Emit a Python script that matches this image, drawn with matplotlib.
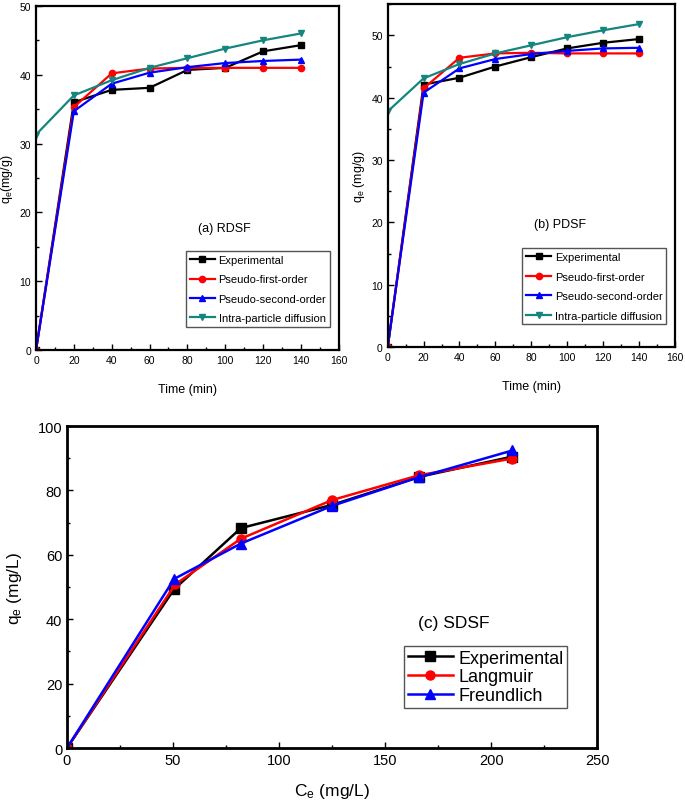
import numpy as np
import matplotlib
matplotlib.use("Agg")
import matplotlib.pyplot as plt
from matplotlib.ticker import MultipleLocator

# (a) RDSF kinetics
time_a = [0, 20, 40, 60, 80, 100, 120, 140]
exp_a = [0, 36.0, 37.8, 38.1, 40.7, 41.0, 43.4, 44.3]
pfo_a = [0, 35.3, 40.2, 40.9, 41.0, 41.0, 41.0, 41.0]
pso_a = [0, 34.7, 38.7, 40.3, 41.1, 41.7, 42.0, 42.2]
ipd_a = [31.3, 37.0, 39.2, 41.0, 42.4, 43.8, 45.0, 46.0]

# (b) PDSF kinetics
time_b = [0, 20, 40, 60, 80, 100, 120, 140]
exp_b = [0, 42.1, 43.2, 45.0, 46.5, 47.9, 48.8, 49.4]
pfo_b = [0, 41.5, 46.4, 47.1, 47.2, 47.1, 47.1, 47.1]
pso_b = [0, 40.8, 44.7, 46.2, 47.0, 47.5, 47.9, 48.0]
ipd_b = [37.8, 43.1, 45.4, 47.1, 48.4, 49.7, 50.8, 51.8]

# (c) SDSF isotherms
ce_exp = [0, 50.5, 82, 125, 166, 210]
qe_exp = [0, 49.3, 68.3, 75.5, 84.2, 90.5]
ce_lang = [0, 51, 82, 125, 166, 210]
qe_lang = [0, 50.8, 65.0, 77.0, 84.7, 89.9]
ce_freu = [0, 50.5, 82, 125, 166, 210]
qe_freu = [0, 52.5, 63.5, 75.2, 84.1, 92.4]

kin_labels = ["Experimental", "Pseudo-first-order", "Pseudo-second-order", "Intra-particle diffusion"]
iso_labels = ["Experimental", "Langmuir", "Freundlich"]
teal = "#14867f"

plt.rcParams["font.family"] = ["Liberation Sans", "DejaVu Sans"]
plt.rcParams["mathtext.fontset"] = "custom"
plt.rcParams["mathtext.rm"] = "Liberation Sans"
plt.rcParams["mathtext.it"] = "Liberation Sans"

fig = plt.figure(figsize=(6.85, 8.04), dpi=100)


def style_axes(ax, fsize):
    ax.tick_params(which="both", direction="in", top=False, right=False)
    ax.tick_params(which="major", length=4, width=1, labelsize=fsize)
    ax.tick_params(which="minor", length=2.5, width=1)
    for s in ax.spines.values():
        s.set_linewidth(1.6)


def kinetics_panel(rect, t, series, ylim, ytext, tag, tagpos):
    ax = fig.add_axes(rect)
    markers = ["s", "o", "^", "v"]
    colors = ["black", "red", "blue", teal]
    for y, m, c, lab in zip(series, markers, colors, kin_labels):
        ax.plot(t, y, marker=m, color=c, lw=1.6, ms=4.5, label=lab)
    ax.set_xlim(0, 160)
    ax.set_ylim(*ylim)
    ax.xaxis.set_major_locator(MultipleLocator(20))
    ax.xaxis.set_minor_locator(MultipleLocator(10))
    ax.yaxis.set_major_locator(MultipleLocator(10))
    ax.yaxis.set_minor_locator(MultipleLocator(5))
    style_axes(ax, 7.5)
    ax.set_xlabel("Time (min)", fontsize=9, labelpad=13)
    ax.set_ylabel(ytext, fontsize=9, labelpad=3)
    ax.text(tagpos[0], tagpos[1], tag, transform=ax.transAxes, fontsize=9)
    ax.legend(loc="lower right", bbox_to_anchor=(0.99, 0.05), fancybox=False,
              edgecolor="#555555", framealpha=1, handlelength=2.3, borderpad=0.35,
              labelspacing=0.85, handletextpad=0.3, prop={"size": 8})
    return ax


kinetics_panel([0.0526, 0.5634, 0.442, 0.428], time_a, [exp_a, pfo_a, pso_a, ipd_a],
               (0, 50), "q$_\\mathrm{e}$(mg/g)", "(a) RDSF", (0.535, 0.345))
kinetics_panel([0.566, 0.567, 0.419, 0.4266], time_b, [exp_b, pfo_b, pso_b, ipd_b],
               (0, 55), "q$_\\mathrm{e}$ (mg/g)", "(b) PDSF", (0.51, 0.35))

ax = fig.add_axes([0.0978, 0.0684, 0.774, 0.4005])
ax.plot(ce_exp, qe_exp, marker="s", color="black", lw=1.8, ms=6.5, label=iso_labels[0])
ax.plot(ce_lang, qe_lang, marker="o", color="red", lw=1.8, ms=6.5, label=iso_labels[1])
ax.plot(ce_freu, qe_freu, marker="^", color="blue", lw=1.8, ms=6.5, label=iso_labels[2])
ax.set_xlim(0, 250)
ax.set_ylim(0, 100)
ax.xaxis.set_major_locator(MultipleLocator(50))
ax.xaxis.set_minor_locator(MultipleLocator(25))
ax.yaxis.set_major_locator(MultipleLocator(20))
ax.yaxis.set_minor_locator(MultipleLocator(10))
style_axes(ax, 10.5)
for s in ax.spines.values():
    s.set_linewidth(2)
ax.set_xlabel("C$_\\mathrm{e}$ (mg/L)", fontsize=12.5, labelpad=10)
ax.set_ylabel("q$_\\mathrm{e}$ (mg/L)", fontsize=12.5, labelpad=10)
ax.text(0.662, 0.375, "(c) SDSF", transform=ax.transAxes, fontsize=12.5)
ax.legend(loc="lower right", bbox_to_anchor=(0.943, 0.125), borderaxespad=0,
          fancybox=False, edgecolor="#555555", framealpha=1, handlelength=2.5,
          borderpad=0.2, labelspacing=0.1, handletextpad=0.3, fontsize=13)

fig.savefig("out.png", dpi=100)
